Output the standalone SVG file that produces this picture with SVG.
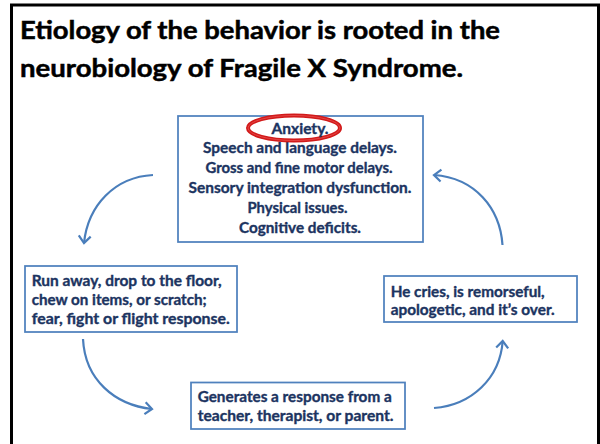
<svg xmlns="http://www.w3.org/2000/svg" width="600" height="444" viewBox="0 0 600 444">
<defs>
<style>
.title{font-family:Lato,"Open Sans","Liberation Sans",sans-serif;font-weight:700;font-size:25.5px;fill:#000;stroke:#000;stroke-width:0.5}
.t{font-family:Lato,"Open Sans","Liberation Sans",sans-serif;font-weight:700;font-size:14.5px;fill:#1c3461;stroke:#1c3461;stroke-width:0.35}
.box{fill:#fff;stroke:#4f81bd;stroke-width:1.75}
.arr{fill:none;stroke:#4a7ebb;stroke-width:2.2;marker-end:url(#ah)}
</style>
<marker id="ah" markerUnits="userSpaceOnUse" markerWidth="20" markerHeight="20" viewBox="-10 -10 20 20" refX="0" refY="0" orient="auto">
<path d="M-7,-6 L0,0 L-7,6" fill="none" stroke="#4a7ebb" stroke-width="2.2"/>
</marker>
</defs>
<rect width="600" height="444" fill="#fff"/>
<rect x="11.5" y="5" width="587" height="450" fill="none" stroke="#000" stroke-width="3"/>
<g id="title">
<text class="title" x="20" y="39" textLength="480" lengthAdjust="spacingAndGlyphs">Etiology of the behavior is rooted in the</text>
<text class="title" x="20" y="77" textLength="443" lengthAdjust="spacingAndGlyphs">neurobiology of Fragile X Syndrome.</text>
</g>
<g id="connectors">
<path class="arr" d="M153,175 C115,177 88,205 84,243"/>
<path class="arr" d="M83,339 C85,380 115,405 152,409"/>
<path class="arr" d="M434,408 C472,405 500,378 502.7,341"/>
<path class="arr" d="M502.5,245 C500,208 475,178 434,175"/>
</g>
<g id="node-top">
<rect class="box" x="178" y="116" width="245" height="126"/>
<text class="t" x="300" y="153" text-anchor="middle" textLength="194" lengthAdjust="spacingAndGlyphs">Speech and language delays.</text>
<ellipse cx="294" cy="128" rx="46" ry="12.5" fill="#fff" stroke="#d21a1a" stroke-width="4"/>
<ellipse cx="294" cy="128" rx="46" ry="12.5" fill="none" stroke="#f06060" stroke-width="1" opacity="0.6"/>
<text class="t" x="300" y="133.5" text-anchor="middle" textLength="57" lengthAdjust="spacingAndGlyphs">Anxiety.</text>
<text class="t" x="299" y="173" text-anchor="middle" textLength="187" lengthAdjust="spacingAndGlyphs">Gross and fine motor delays.</text>
<text class="t" x="300" y="193" text-anchor="middle" textLength="223" lengthAdjust="spacingAndGlyphs">Sensory integration dysfunction.</text>
<text class="t" x="297.5" y="213" text-anchor="middle" textLength="100" lengthAdjust="spacingAndGlyphs">Physical issues.</text>
<text class="t" x="300" y="233" text-anchor="middle" textLength="122" lengthAdjust="spacingAndGlyphs">Cognitive deficits.</text>
</g>
<g id="node-left">
<rect class="box" x="25" y="266" width="212" height="66"/>
<text class="t" x="31.7" y="286" textLength="190" lengthAdjust="spacingAndGlyphs">Run away, drop to the floor,</text>
<text class="t" x="31.7" y="305" textLength="175" lengthAdjust="spacingAndGlyphs">chew on items, or scratch;</text>
<text class="t" x="31.7" y="324" textLength="198" lengthAdjust="spacingAndGlyphs">fear, fight or flight response.</text>
</g>
<g id="node-right">
<rect class="box" x="384" y="276" width="193" height="46"/>
<text class="t" x="390.7" y="296.5" textLength="154" lengthAdjust="spacingAndGlyphs">He cries, is remorseful,</text>
<text class="t" x="390.7" y="315" textLength="164" lengthAdjust="spacingAndGlyphs">apologetic, and it’s over.</text>
</g>
<g id="node-bottom">
<rect class="box" x="191" y="382.5" width="214" height="46.5"/>
<text class="t" x="197.7" y="401.5" textLength="194" lengthAdjust="spacingAndGlyphs">Generates a response from a</text>
<text class="t" x="197.7" y="421" textLength="195.7" lengthAdjust="spacingAndGlyphs">teacher, therapist, or parent.</text>
</g>
</svg>
